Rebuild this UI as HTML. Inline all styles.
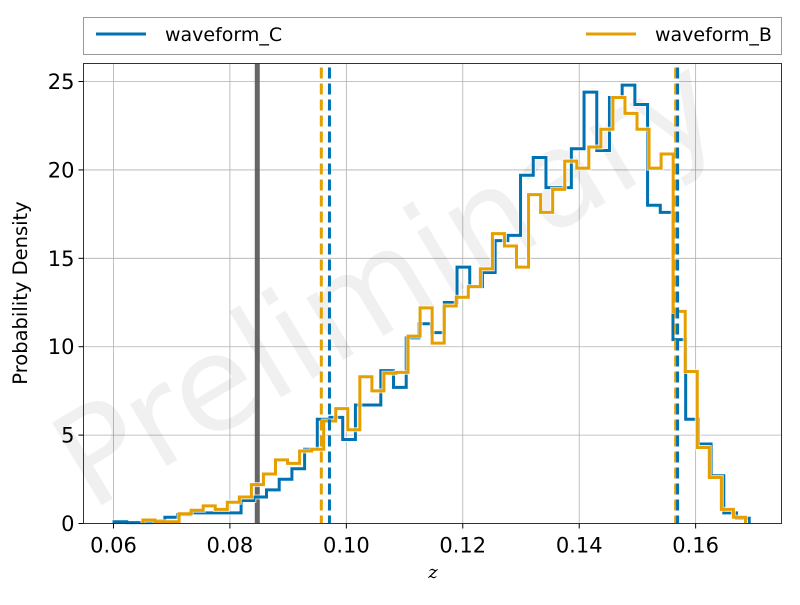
<!DOCTYPE html>
<html><head><meta charset="utf-8"><style>
body{margin:0;background:#fff;}
svg{font-family:"DejaVu Sans","Liberation Sans",sans-serif;}
</style></head><body>
<svg id="chart" width="800" height="600" viewBox="0 0 800 600">
<g>
<rect x="83.5" y="17.5" width="698" height="37" fill="#fff" stroke="#999"/>
<line x1="96" y1="34" x2="146" y2="34" stroke="#0072B2" stroke-width="3"/>
<text x="165" y="41" font-size="19" fill="#000">waveform_C</text>
<line x1="586" y1="34" x2="636" y2="34" stroke="#E69F00" stroke-width="3"/>
<text x="655" y="41" font-size="19" fill="#000">waveform_B</text>
</g>
<g id="grid"></g>
<text x="0" y="0" font-size="132" fill="#000" fill-opacity="0.06" transform="translate(410,320) rotate(-31)" text-anchor="middle">Preliminary</text>
<g id="marks"></g>
<rect x="83.5" y="63.5" width="698" height="460" fill="none" stroke="#333" stroke-width="1"/>
<g id="ticks"></g>
<text x="27" y="293" font-size="19.5" text-anchor="middle" transform="rotate(-90 27 293)">Probability Density</text>
<text x="433" y="578" font-size="18" font-style="italic" font-family="DejaVu Serif,Liberation Serif,serif" text-anchor="middle">z</text>
</svg>
<script>
const blueStart = 0.0601;
const blueWidth = 0.002182;
const blueValues = [0.1,0.05,0.05,0.15,0.35,0.5,0.6,0.6,0.6,0.6,1.3,1.5,1.9,2.5,3.1,4.2,5.9,6.0,4.75,6.7,6.7,8.65,7.7,10.5,11.3,10.8,12.5,14.5,13.4,14.2,16.0,16.3,19.7,20.7,19.0,19.0,21.2,24.4,21.1,24.1,24.8,23.7,18.0,17.6,10.4,5.9,4.5,2.7,0.6,0.3];
const orangeStart = 0.06506;
const orangeWidth = 0.00207;
const orangeValues = [0.2,0.1,0.1,0.55,0.75,1.0,0.8,1.2,1.5,2.2,2.8,3.6,3.4,4.1,4.2,5.8,6.5,5.3,8.3,7.5,8.5,8.55,10.6,12.2,10.2,12.3,12.8,13.4,14.4,16.4,15.7,14.5,18.6,17.6,18.9,20.5,20.1,21.3,22.3,24.1,23.2,22.3,20.1,20.9,12.0,8.6,4.3,2.6,0.8,0.35];
const truthValue = [0.0847];
const blueLines = [0.0971, 0.1569];
const orangeLines = [0.0957, 0.15657];
const xTicks = [0.06,0.08,0.10,0.12,0.14,0.16];
const xTickLabels = ["0.06","0.08","0.10","0.12","0.14","0.16"];
const yTicks = [0,5,10,15,20,25];
const yTickLabels = ["0","5","10","15","20","25"];

const L=83.5,R=781.5,T=63.5,B=523.5;
const x0=0.05485,x1=0.17475,y0=0,y1=26.02;
function X(v){return L+(v-x0)/(x1-x0)*(R-L);}
function Y(v){return B-(v-y0)/(y1-y0)*(B-T);}
const NS='http://www.w3.org/2000/svg';
function mk(tag,attrs,parent){const e=document.createElementNS(NS,tag);for(const k in attrs)e.setAttribute(k,attrs[k]);parent.appendChild(e);return e;}
const grid=document.getElementById('grid'),marks=document.getElementById('marks'),ticks=document.getElementById('ticks');
xTicks.forEach((t,i)=>{
  const g=mk('line',{x1:X(t),x2:X(t),y1:T,y2:B,stroke:'#b0b0b0','stroke-width':0.8},grid);
  
  
  const tk=mk('line',{x1:X(t),x2:X(t),y1:B,y2:B+5,stroke:'#000','stroke-width':1},ticks);
  
  
  const tx=mk('text',{x:X(t),y:B+29,'font-size':21,'text-anchor':'middle'},ticks);
  tx.textContent=xTickLabels[i];
  
  
});
yTicks.forEach((t,i)=>{
  const g=mk('line',{x1:L,x2:R,y1:Y(t),y2:Y(t),stroke:'#b0b0b0','stroke-width':0.8},grid);
  
  
  const tk=mk('line',{x1:L-5,x2:L,y1:Y(t),y2:Y(t),stroke:'#000','stroke-width':1},ticks);
  
  
  const tx=mk('text',{x:L-9,y:Y(t)+7.5,'font-size':21,'text-anchor':'end'},ticks);
  tx.textContent=yTickLabels[i];
  
  
});
function stepPath(start,w,vals){
  let d='M'+X(start)+','+Y(0);
  vals.forEach((v,i)=>{d+=' L'+X(start+i*w)+','+Y(v)+' L'+X(start+(i+1)*w)+','+Y(v);});
  d+=' L'+X(start+vals.length*w)+','+Y(0);
  return d;
}
truthValue.forEach(v=>{
  const l=mk('line',{x1:X(v),x2:X(v),y1:T,y2:B,stroke:'#555','stroke-width':5,'stroke-opacity':0.9},marks);
  
  
});
[[blueStart,blueWidth,blueValues,'#0072B2','histogram-waveform-c'],[orangeStart,orangeWidth,orangeValues,'#E69F00','histogram-waveform-b']].forEach(s=>{
  const d=stepPath(s[0],s[1],s[2]);
  const h=mk('path',{d:d,fill:'none',stroke:'#fff','stroke-width':5,'stroke-opacity':0.7},marks);
  
  
  const p=mk('path',{d:d,fill:'none',stroke:s[3],'stroke-width':3},marks);
  
  
});
orangeLines.forEach(v=>{
  const l=mk('line',{x1:X(v),x2:X(v),y1:T+4,y2:B,stroke:'#E69F00','stroke-width':3,'stroke-dasharray':'11,5'},marks);
  
  
});
blueLines.forEach(v=>{
  const l=mk('line',{x1:X(v),x2:X(v),y1:T+4,y2:B,stroke:'#0072B2','stroke-width':3,'stroke-dasharray':'11,5'},marks);
  
  
});
</script>
</body></html>
